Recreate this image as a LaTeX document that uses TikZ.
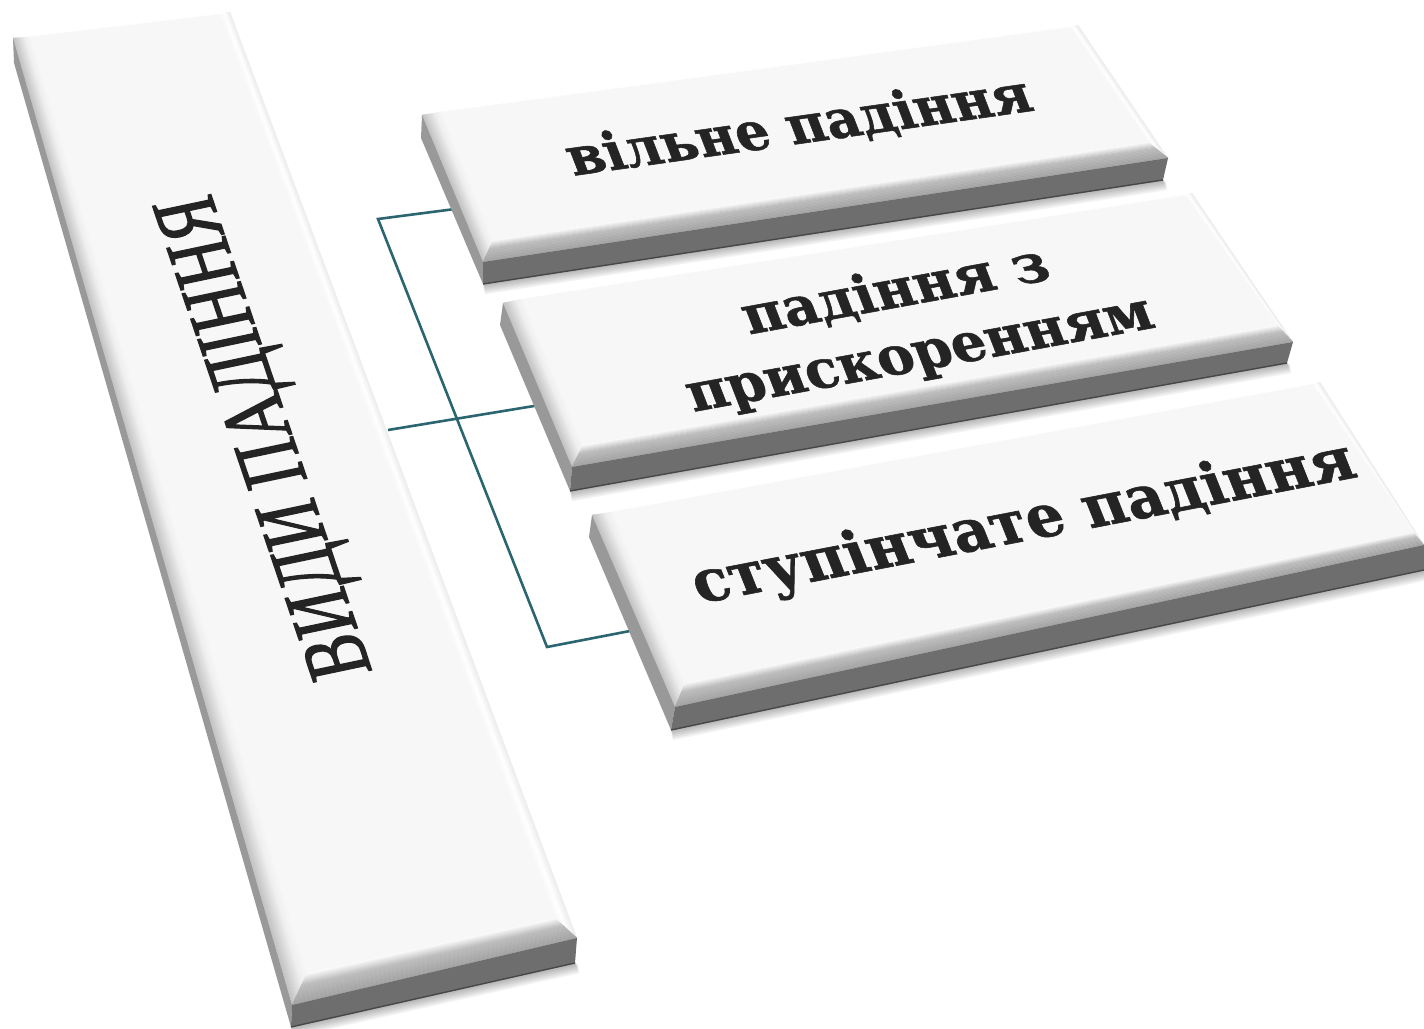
\documentclass[tikz,border=0pt]{standalone}
\usepackage{xcolor}
\usepackage{fontspec}
\usepackage{tikz}
\usetikzlibrary{calc}
\newfontfamily\titlefont[FakeBold=1.8]{Liberation Serif}
\newfontfamily\labelfont[BoldFeatures={FakeBold=1}]{DejaVu Serif}
\definecolor{linkcolor}{rgb}{0.17, 0.40, 0.44}
\definecolor{inkcolor}{rgb}{0.14, 0.14, 0.14}

% inner edge, outer edge, part of the width, grey at both ends
\newcommand{\stripes}[8]{
	\foreach \k in {1,...,8}{
		\pgfmathsetmacro{\ta}{#5+(#6-#5)*(\k-1)/8}
		\pgfmathsetmacro{\tb}{#5+(#6-#5)*\k/8}
		\pgfmathsetmacro{\val}{#7+(#8-#7)*(\k-.5)/8}
		\definecolor{stripcol}{gray}{\val}
		\filldraw[color=stripcol, line width=.15pt] ($(#1)!\ta!(#3)$) -- ($(#2)!\ta!(#4)$) -- ($(#2)!\tb!(#4)$) -- ($(#1)!\tb!(#3)$) -- cycle;
	}
}
% top of a slab: outer corners, then inner corners
\newcommand{\slabtop}[9]{
	\coordinate (#1-otl) at #2;
	\coordinate (#1-otr) at #3;
	\coordinate (#1-obr) at #4;
	\coordinate (#1-obl) at #5;
	\coordinate (#1-itl) at #6;
	\coordinate (#1-itr) at #7;
	\coordinate (#1-ibr) at #8;
	\coordinate (#1-ibl) at #9;
	\stripes{#1-itl}{#1-itr}{#1-otl}{#1-otr}{0}{1}{.97}{1}
	\stripes{#1-itr}{#1-ibr}{#1-otr}{#1-obr}{0}{.5}{.97}{1}
	\stripes{#1-itr}{#1-ibr}{#1-otr}{#1-obr}{.5}{1}{1}{.93}
	\stripes{#1-itl}{#1-ibl}{#1-otl}{#1-obl}{0}{.35}{.97}{.94}
	\stripes{#1-itl}{#1-ibl}{#1-otl}{#1-obl}{.35}{1}{.94}{.76}
	\stripes{#1-ibl}{#1-ibr}{#1-obl}{#1-obr}{0}{.4}{1}{.74}
	\stripes{#1-ibl}{#1-ibr}{#1-obl}{#1-obr}{.4}{1}{.74}{.64}
	\fill[facecolor] (#1-itl) -- (#1-itr) -- (#1-ibr) -- (#1-ibl) -- cycle;
}
% side faces and the shadow under them
\newcommand{\slabfoot}[4]{
	\coordinate (#1-stl) at #2;
	\coordinate (#1-sbr) at #3;
	\coordinate (#1-sbl) at #4;
	\foreach \k in {1,...,6}
		\fill[black, opacity=.05] (#1-sbl) -- (#1-sbr) -- ($(#1-sbr)+(4,\k*1.7)$) -- ($(#1-sbl)+(2,\k*1.7)$) -- cycle;
	\fill[sidecolor] (#1-otl) -- (#1-obl) -- (#1-sbl) -- (#1-stl) -- cycle;
	\fill[frontcolor] (#1-obl) -- (#1-obr) -- (#1-sbr) -- (#1-sbl) -- cycle;
	\draw[edgecolor, line width=.7pt] (#1-sbl) -- (#1-sbr);
}
\definecolor{facecolor}{gray}{.97}
\definecolor{sidecolor}{gray}{.60}
\definecolor{frontcolor}{gray}{.43}
\definecolor{edgecolor}{gray}{.28}

\begin{document}
\begin{tikzpicture}[
			x=.5pt, y=-.5pt,
			link/.style={draw=linkcolor, line width=1.3pt, line join=miter},
			kindtext/.style={font=\labelfont\bfseries\fontsize{26}{32}\selectfont, text=inkcolor, inner sep=0pt, align=center},
			headtext/.style={font=\titlefont\fontsize{30}{34}\selectfont, text=inkcolor, inner sep=0pt, anchor=base}
		]
		\useasboundingbox (0,0) rectangle (1424,1028);

		\coordinate (turn1) at (378,219);
		\coordinate (turn3) at (547,647);
		\coordinate (out2) at (388,430);
		\coordinate (in1) at (455,209);
		\coordinate (in2) at (540,405);
		\coordinate (in3) at (635,630);
		\draw[link] (in1) -- (turn1) -- (turn3) -- (in3);
		\draw[link] (out2) -- (in2);

		\slabtop{main}{(13,38)}{(230,12)}{(577,938)}{(292,1005)}{(31,37)}{(220,15)}{(555,918)}{(307,973)}
		\slabfoot{main}{(14,63)}{(575,963)}{(291,1027)}
		\slabtop{free}{(422,115)}{(1078,25)}{(1168,158)}{(483,262)}{(442,112)}{(1070,28)}{(1148,142)}{(493,240)}
		\slabfoot{free}{(421,138)}{(1163,180)}{(483,284)}
		\slabtop{accel}{(503,303)}{(1192,193)}{(1293,342)}{(572,467)}{(523,299)}{(1185,196)}{(1277,325)}{(583,445)}
		\slabfoot{accel}{(500,325)}{(1287,363)}{(570,491)}
		\slabtop{step}{(592,515)}{(1320,382)}{(1424,545)}{(675,707)}{(613,512)}{(1312,385)}{(1413,532)}{(685,683)}
		\slabfoot{step}{(589,537)}{(1424,570)}{(671,730)}

		\node[headtext, cm={-.355,1.05,-1.47,-.31,(0,0)}] (head) at (291,432) {ВИДИ ПАДІННЯ};
		\node[kindtext, anchor=base, cm={1.01,.143,-.38,.98,(0,0)}] (free-text) at (805,143) {вільне падіння};
		\node[kindtext, cm={1.04,.19,-.38,.98,(0,0)}] (accel-text) at (908,324) {падіння з\\прискоренням};
		\node[kindtext, anchor=base, font=\labelfont\bfseries\fontsize{28}{32}\selectfont, cm={1.04,.2,-.4,1,(0,0)}] (step-text) at (1030,540) {ступінчате падіння};
		\end{tikzpicture}
\end{document}
